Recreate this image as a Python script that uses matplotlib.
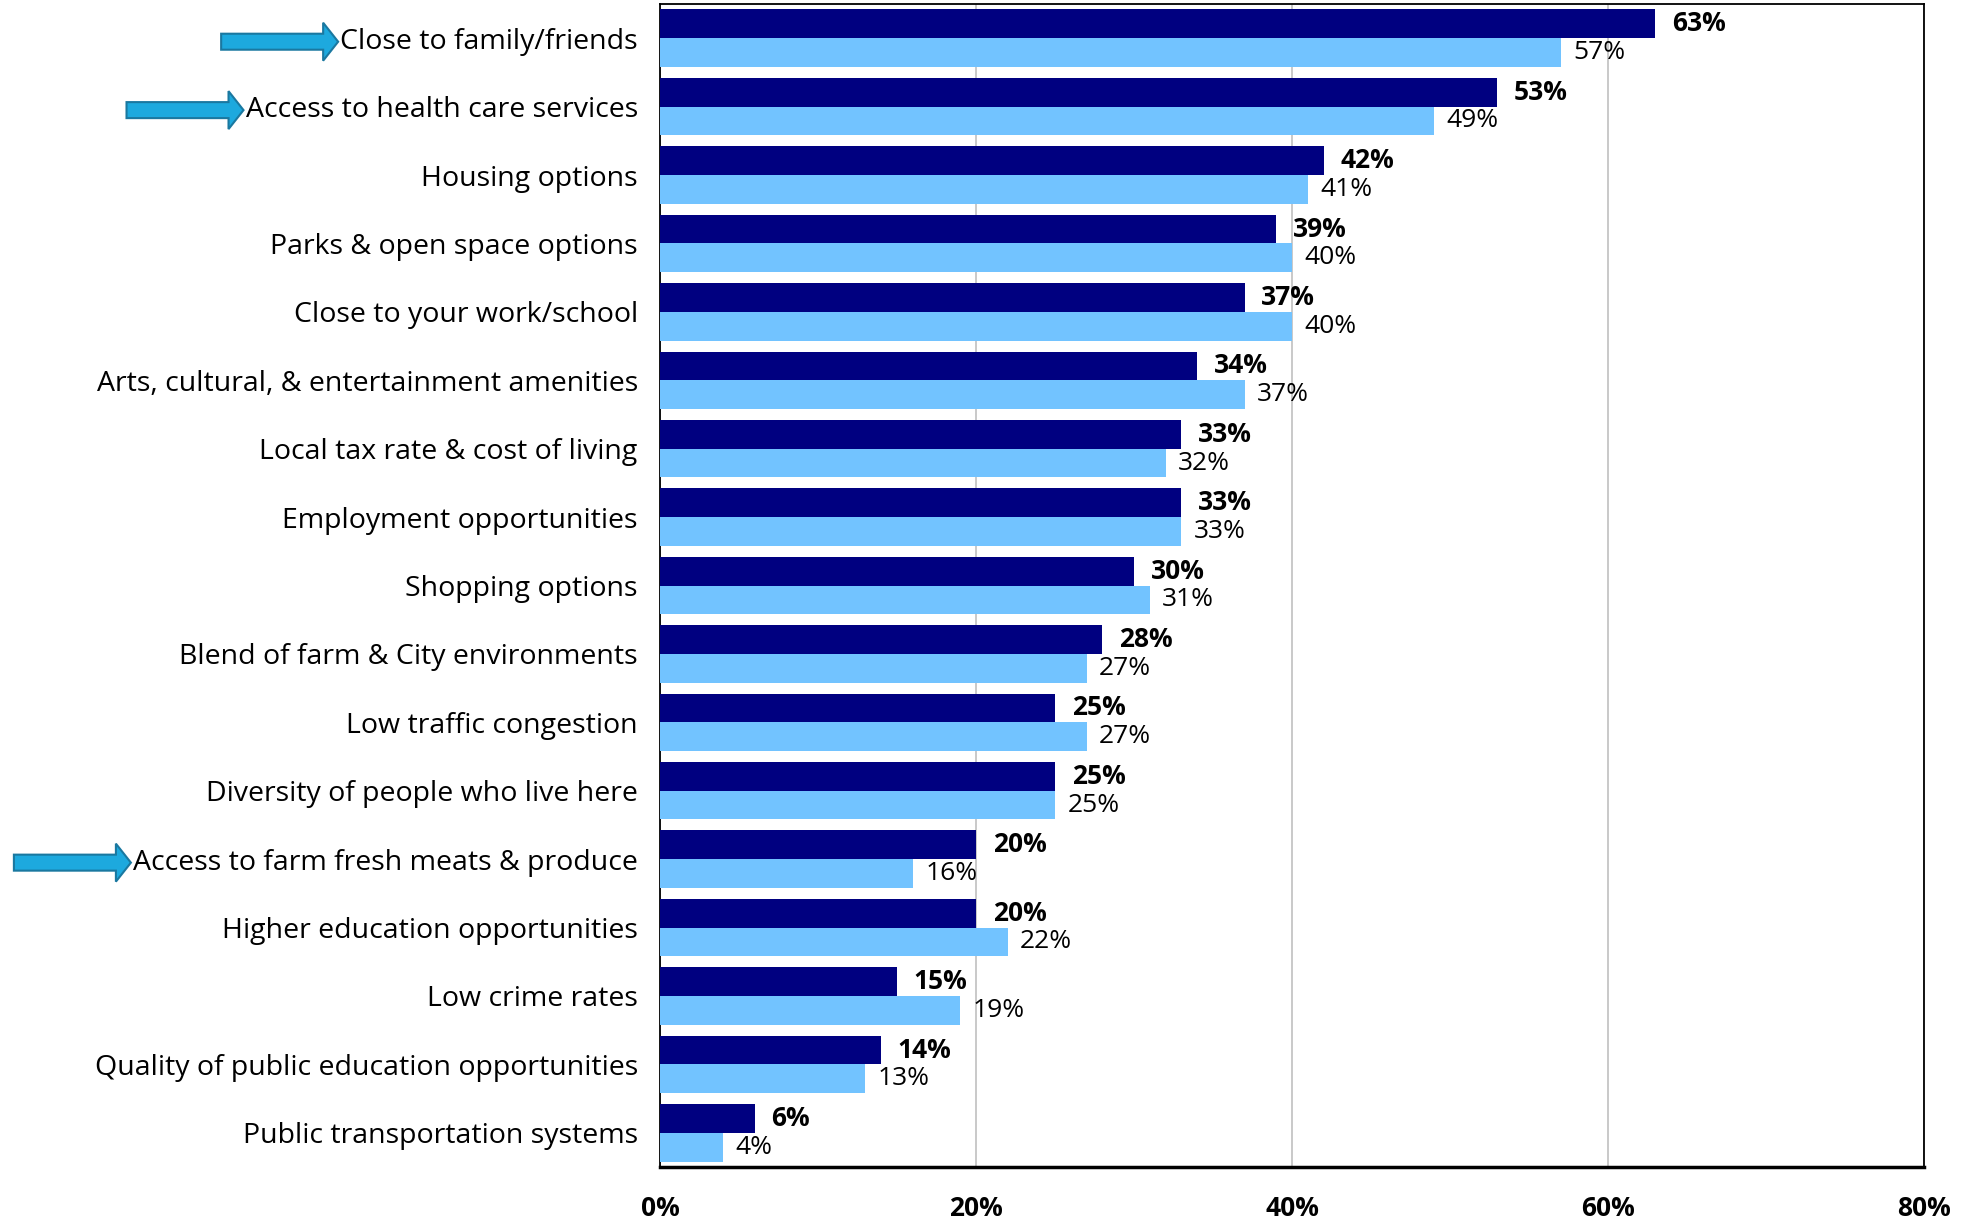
import matplotlib
matplotlib.use("Agg")
import matplotlib.pyplot as plt
import numpy as np
from matplotlib.patches import FancyArrow

plt.rcParams['font.family'] = ['Open Sans', 'DejaVu Sans']

categories = ["Close to family/friends", "Access to health care services", "Housing options",
              "Parks & open space options", "Close to your work/school",
              "Arts, cultural, & entertainment amenities", "Local tax rate & cost of living",
              "Employment opportunities", "Shopping options", "Blend of farm & City environments",
              "Low traffic congestion", "Diversity of people who live here",
              "Access to farm fresh meats & produce", "Higher education opportunities",
              "Low crime rates", "Quality of public education opportunities",
              "Public transportation systems"]
series_a = [63, 53, 42, 39, 37, 34, 33, 33, 30, 28, 25, 25, 20, 20, 15, 14, 6]
series_b = [57, 49, 41, 40, 40, 37, 32, 33, 31, 27, 27, 25, 16, 22, 19, 13, 4]
xticks = [0, 20, 40, 60, 80]
xtick_labels = ["0%", "20%", "40%", "60%", "80%"]
highlighted = ["Close to family/friends", "Access to health care services",
               "Access to farm fresh meats & produce"]

W, H = 1967, 1221
fig = plt.figure(figsize=(W/100, H/100), dpi=100)
L, R, T, B = 660, 1924, 4, 1167
ax = fig.add_axes([L/W, 1 - B/H, (R-L)/W, (B-T)/H])

n = len(categories)
y = np.arange(n)
bh = 0.42
dark = "#000080"
light = "#72C3FF"
ax.barh(y - bh/2, series_a, height=bh, color=dark, zorder=3)
ax.barh(y + bh/2, series_b, height=bh, color=light, zorder=3)

for yi, a, b in zip(y, series_a, series_b):
    ax.annotate(f"{a}%", (a, yi - bh/2), xytext=(12, 0), textcoords="offset points",
                va="center", ha="left", fontsize=19, fontweight="bold", color="black")
    ax.annotate(f"{b}%", (b, yi + bh/2), xytext=(9, 0), textcoords="offset points",
                va="center", ha="left", fontsize=19, color="black")

ax.set_ylim(n - 0.5, -0.5)
ax.set_xlim(0, 80)
ax.set_xticks(xticks)
ax.set_xticklabels(xtick_labels, fontsize=19, fontweight="bold")
ax.set_yticks(y)
ax.set_yticklabels(categories, fontsize=20.5)
ax.tick_params(axis="both", length=0)
ax.tick_params(axis="y", pad=16)
ax.tick_params(axis="x", pad=20)
ax.grid(axis="x", color="#C0C0C0", linewidth=1.2, zorder=0)
for s in ax.spines.values():
    s.set_color("black")
    s.set_linewidth(1.3)
ax.spines["bottom"].set_linewidth(2.5)

# arrows pointing to highlighted categories
fig.canvas.draw()
renderer = fig.canvas.get_renderer()
for lab in ax.get_yticklabels():
    if lab.get_text() in highlighted:
        bb = lab.get_window_extent(renderer)
        x_end = bb.x0 - 2
        yc = (bb.y0 + bb.y1) / 2
        length = 117
        arr = FancyArrow((x_end - length) / W, yc / H, length / W, 0,
                         width=16 / H, head_width=38 / H, head_length=15 / W,
                         length_includes_head=True, transform=fig.transFigure,
                         facecolor="#1DA9DE", edgecolor="#1A78A0", linewidth=1.5)
        fig.add_artist(arr)

fig.savefig("out.png", dpi=100)
